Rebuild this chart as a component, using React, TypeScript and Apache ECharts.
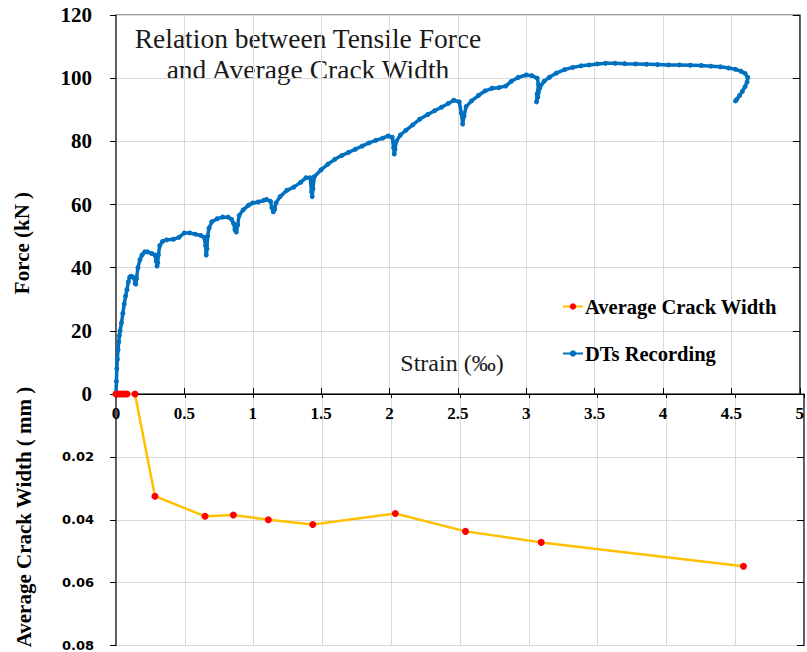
import React, { useEffect, useRef } from "react";
import * as echarts from "echarts";

// DTs Recording: strain (‰) and force (kN)
const dtsStrain = [
  0, 0.003, 0.006, 0.01, 0.015, 0.02, 0.025, 0.03, 0.04, 0.05, 0.06, 0.07, 0.08, 0.09, 0.1, 0.11, 0.125, 0.135, 0.14, 0.145,
  0.15, 0.16, 0.175, 0.19, 0.21, 0.23, 0.26, 0.285, 0.295, 0.3, 0.305, 0.31, 0.32, 0.34, 0.37, 0.42, 0.46, 0.5, 0.54, 0.58,
  0.62, 0.645, 0.655, 0.66, 0.665, 0.67, 0.68, 0.7, 0.74, 0.78, 0.82, 0.845, 0.86, 0.87, 0.88, 0.89, 0.9, 0.93, 0.97, 1.0,
  1.04, 1.08, 1.1, 1.13, 1.14, 1.15, 1.16, 1.17, 1.2, 1.25, 1.3, 1.35, 1.39, 1.42, 1.43, 1.435, 1.44, 1.45, 1.5, 1.55,
  1.6, 1.65, 1.7, 1.75, 1.8, 1.85, 1.9, 1.95, 1.99, 2.02, 2.03, 2.035, 2.04, 2.05, 2.08, 2.12, 2.17, 2.22, 2.28, 2.33,
  2.38, 2.43, 2.47, 2.51, 2.525, 2.535, 2.545, 2.56, 2.6, 2.65, 2.7, 2.75, 2.8, 2.85, 2.89, 2.94, 3.0, 3.04, 3.08, 3.09,
  3.08, 3.075, 3.085, 3.1, 3.13, 3.17, 3.22, 3.28, 3.34, 3.4, 3.46, 3.52, 3.58, 3.65, 3.72, 3.8, 3.88, 3.96, 4.04, 4.12,
  4.2, 4.28, 4.35, 4.42, 4.48, 4.53, 4.57, 4.6, 4.62, 4.615, 4.6, 4.58, 4.56, 4.54, 4.53,
];
const dtsForce = [
  0, 4, 8, 11, 14, 16.5, 18.5, 20, 22.5, 25.5, 28.5, 31, 33, 35.5, 37, 37.3, 37, 36.5, 35, 34.8,
  36.5, 40, 42.5, 44, 45, 45, 44.5, 44, 42, 40.5, 41.5, 44, 47, 48.3, 48.8, 49, 49.6, 51, 51, 50.6,
  50.2, 49.6, 47, 44, 46, 50, 52.5, 54.5, 55.5, 56, 56, 55.3, 54, 52, 51.3, 53.5, 56.5, 58.3, 59.8, 60.5,
  60.8, 61.3, 61.6, 61, 59, 57.7, 58.5, 60.5, 62.5, 64.5, 65.5, 67, 68.5, 68.5, 64, 62.5, 65, 68.8, 71, 72.8,
  74.3, 75.5, 76.5, 77.5, 78.5, 79.5, 80.3, 81, 81.7, 81.3, 78, 76, 77.5, 80, 82, 83.5, 85.2, 87, 88.5, 89.7,
  90.8, 92, 93, 92.5, 89, 85.5, 88, 91, 92.8, 94.5, 96, 96.8, 97, 97.5, 99, 100.2, 101, 100.8, 100, 98,
  95, 92.5, 94, 97, 99, 100.3, 101.6, 102.7, 103.4, 103.9, 104.2, 104.5, 104.7, 104.7, 104.6, 104.5, 104.4, 104.3, 104.2, 104.2,
  104.1, 104, 103.8, 103.6, 103.2, 102.8, 102.2, 101.5, 100.2, 98.8, 97.3, 95.8, 94.5, 93.3, 92.8,
];

// Average Crack Width: strain (‰) and width (mm)
const crackStrain = [0, 0.02, 0.04, 0.06, 0.08, 0.138, 0.283, 0.647, 0.853, 1.107, 1.43, 2.03, 2.54, 3.09, 4.56];
const crackWidth = [0, 0, 0, 0, 0, 0, 0.0325, 0.0389, 0.0385, 0.04, 0.0415, 0.038, 0.0437, 0.0472, 0.0548];

const titleLines = ["Relation between Tensile Force", "and Average Crack Width"];
const xAxisName = "Strain (‰)";
const forceAxisName = "Force (kN )";
const crackAxisName = "Average Crack Width ( mm )";
const seriesNames = ["Average Crack Width", "DTs Recording"];

const SERIF = "'Liberation Serif', 'Times New Roman', serif";
const GRID_COLOR = "#d9d9d9";

export default function App() {
  const ref = useRef<HTMLDivElement>(null);

  useEffect(() => {
    if (!ref.current) return;
    const chart = echarts.init(ref.current, undefined, { renderer: "svg" });

    const dtsData = dtsStrain.map((x, i) => [x, dtsForce[i]]);
    const crackData = crackStrain.map((x, i) => [x, crackWidth[i]]);

    const xCommon = {
      type: "value",
      min: 0,
      max: 5,
      interval: 0.5,
      splitLine: { show: true, lineStyle: { color: GRID_COLOR, width: 1 } },
    };

    const option: any = {
      animation: false,
      backgroundColor: "#ffffff",
      grid: [
        { left: 116, top: 15, width: 688, height: 379, show: true, borderColor: "#404040", borderWidth: 1, backgroundColor: "transparent" },
        { left: 116, top: 394, width: 688, height: 252, show: true, borderColor: "#404040", borderWidth: 1, backgroundColor: "transparent" },
      ],
      xAxis: [
        {
          ...xCommon,
          gridIndex: 0,
          position: "bottom",
          axisLine: { show: true, onZero: false, lineStyle: { color: "#000", width: 1 } },
          axisTick: { show: true, inside: true, length: 6, lineStyle: { color: "#000" } },
          axisLabel: { show: true, margin: 11, fontFamily: SERIF, fontWeight: "bold", fontSize: 17, color: "#000" },
        },
        {
          ...xCommon,
          gridIndex: 1,
          position: "top",
          axisLine: { show: true, onZero: false, lineStyle: { color: "#000", width: 1 } },
          axisTick: { show: true, inside: true, length: 4, lineStyle: { color: "#000" } },
          axisLabel: { show: false },
        },
      ],
      yAxis: [
        {
          type: "value",
          gridIndex: 0,
          min: 0,
          max: 120,
          interval: 20,
          axisLine: { show: true, onZero: false, lineStyle: { color: "#404040", width: 1.5 } },
          axisTick: { show: true, inside: false, length: 6, lineStyle: { color: "#000" } },
          axisLabel: { margin: 24, fontFamily: SERIF, fontWeight: "bold", fontSize: 21, color: "#000" },
          splitLine: { show: true, lineStyle: { color: GRID_COLOR, width: 1 } },
        },
        {
          type: "value",
          gridIndex: 0,
          min: 0,
          max: 120,
          interval: 20,
          axisLine: { show: true, onZero: false, lineStyle: { color: "#404040", width: 1.5 } },
          axisTick: { show: true, inside: true, length: 7, lineStyle: { color: "#000" } },
          axisLabel: { show: false },
          splitLine: { show: false },
        },
        {
          type: "value",
          gridIndex: 1,
          min: 0,
          max: 0.08,
          interval: 0.02,
          inverse: true,
          axisLine: { show: true, onZero: false, lineStyle: { color: "#404040", width: 1.5 } },
          axisTick: { show: true, inside: false, length: 6, lineStyle: { color: "#000" } },
          axisLabel: {
            margin: 22,
            showMinLabel: false,
            fontFamily: "'DejaVu Sans', Verdana, sans-serif",
            fontWeight: "bold",
            fontSize: 13,
            color: "#000",
            formatter: (v: number) => v.toFixed(2),
          },
          splitLine: { show: true, lineStyle: { color: GRID_COLOR, width: 1 } },
        },
        {
          type: "value",
          gridIndex: 1,
          min: 0,
          max: 0.08,
          interval: 0.02,
          inverse: true,
          axisLine: { show: true, onZero: false, lineStyle: { color: "#404040", width: 1.5 } },
          axisTick: { show: true, inside: true, length: 7, lineStyle: { color: "#000" } },
          axisLabel: { show: false },
          splitLine: { show: false },
        },
      ],
      legend: {
        orient: "vertical",
        left: 557,
        top: 291,
        itemGap: 26,
        itemWidth: 20,
        itemHeight: 8,
        data: seriesNames,
        textStyle: { fontFamily: SERIF, fontWeight: "bold", fontSize: 20.5, color: "#000", padding: [0, 0, 0, -3] },
      },
      series: [
        {
          name: seriesNames[1],
          type: "line",
          xAxisIndex: 0,
          yAxisIndex: 0,
          data: dtsData,
          showSymbol: true,
          symbol: "circle",
          symbolSize: 5,
          itemStyle: { color: "#0070C0" },
          lineStyle: { color: "#0070C0", width: 3.5 },
          z: 3,
        },
        {
          name: seriesNames[0],
          type: "line",
          xAxisIndex: 1,
          yAxisIndex: 2,
          data: crackData,
          clip: false,
          symbol: "circle",
          symbolSize: 7,
          itemStyle: { color: "#FF0000" },
          lineStyle: { color: "#FFC000", width: 2.5 },
          z: 4,
        },
      ],
      graphic: [
        {
          type: "text",
          x: 308,
          y: 38,
          style: { text: titleLines[0], font: `normal 27.5px ${SERIF}`, fill: "#1a1a1a", textAlign: "center", textVerticalAlign: "middle" },
        },
        {
          type: "text",
          x: 308,
          y: 69,
          style: { text: titleLines[1], font: `normal 27.5px ${SERIF}`, fill: "#1a1a1a", textAlign: "center", textVerticalAlign: "middle" },
        },
        {
          type: "text",
          x: 452,
          y: 363,
          style: { text: xAxisName, font: `normal 24px ${SERIF}`, fill: "#1a1a1a", textAlign: "center", textVerticalAlign: "middle" },
        },
        {
          type: "text",
          x: 22,
          y: 243,
          rotation: Math.PI / 2,
          style: { text: forceAxisName, font: `bold 21px ${SERIF}`, fill: "#000", textAlign: "center", textVerticalAlign: "middle" },
        },
        {
          type: "text",
          x: 24,
          y: 517,
          rotation: Math.PI / 2,
          style: { text: crackAxisName, font: `bold 21px ${SERIF}`, fill: "#000", textAlign: "center", textVerticalAlign: "middle" },
        },
      ],
    };

    chart.setOption(option);
    return () => chart.dispose();
  }, []);

  return (
    <div
      ref={ref}
      style={{ position: "absolute", left: 0, top: 0, width: 807, height: 652, background: "#fff" }}
    />
  );
}
